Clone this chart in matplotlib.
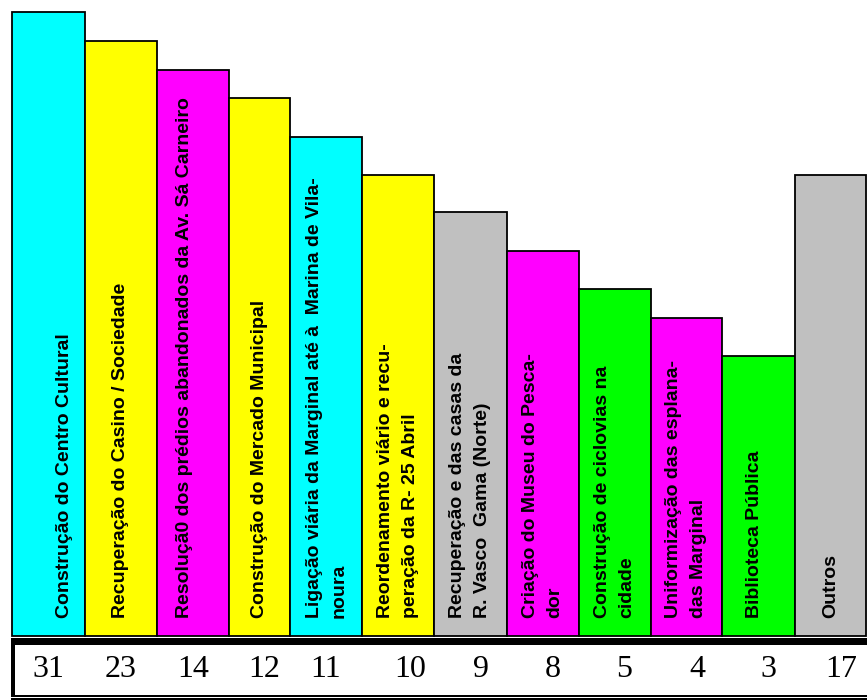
import matplotlib
matplotlib.use("Agg")
import matplotlib.pyplot as plt
import matplotlib.transforms as mtransforms
from matplotlib.patches import Rectangle
import numpy as np

# ---------------- data ----------------
labels = [
    "Construção do Centro Cultural",
    "Recuperação do Casino / Sociedade",
    "Resoluçã0 dos prédios abandonados da Av. Sá Carneiro",
    "Construção do Mercado Municipal",
    "Ligação viária da Marginal até à  Marina de Vila-\nnoura",
    "Reordenamento viário e recu-\nperação da R- 25 Abril",
    "Recuperação e das casas da\nR. Vasco  Gama (Norte)",
    "Criação do Museu do Pesca-\ndor",
    "Construção de ciclovias na\ncidade",
    "Uniformização das esplana-\ndas Marginal",
    "Biblioteca Pública",
    "Outros",
]
values = [31, 23, 14, 12, 11, 10, 9, 8, 5, 4, 3, 17]
# drawn bar heights (arbitrary units)
bar_heights = [31.2, 29.75, 28.3, 26.9, 24.95, 23.05, 21.2, 19.25, 17.35, 15.9, 14.0, 23.05]

# ---------------- style ----------------
colors = ["#00FFFF", "#FFFF00", "#FF00FF", "#FFFF00", "#00FFFF", "#FFFF00",
          "#C0C0C0", "#FF00FF", "#00FF00", "#FF00FF", "#00FF00", "#C0C0C0"]
bar_widths = [1.01, 1.0, 1.0, 0.85, 1.0, 1.0, 1.01, 1.0, 1.0, 0.99, 1.01, 0.99]
label_dx_px = [16, 0, -8, 0, 1, 0, 0, 0, 0, 0, -4, 0]
value_dx_px = [0, 0, 0, 5, 0, 12, 11, 10, 9, 11, 10, 11]

W, H, DPI = 867, 700, 100
fig = plt.figure(figsize=(W / DPI, H / DPI), dpi=DPI)
fig.patch.set_facecolor("white")

# bar axes (pixels 12..866 horizontally, 0..636 vertically)
ax = fig.add_axes([12 / W, (H - 636) / H, 854 / W, 636 / H])
ax.set_axis_off()
lefts = np.concatenate([[0], np.cumsum(bar_widths)[:-1]])
ax.bar(lefts, bar_heights, width=bar_widths, align="edge", color=colors,
       edgecolor="black", linewidth=1.3, clip_on=False)
ax.set_xlim(0, sum(bar_widths))
ax.set_ylim(0, 31.8)

centers = lefts + np.array(bar_widths) / 2
for i, (c, lab) in enumerate(zip(centers, labels)):
    tr = ax.transData + mtransforms.ScaledTranslation(label_dx_px[i] / DPI, 0, fig.dpi_scale_trans)
    ax.text(c, 0.9, lab, rotation=90, ha="center", va="bottom",
            multialignment="left", linespacing=1.6,
            fontsize=14, fontweight="bold",
            family=["Liberation Sans", "DejaVu Sans"],
            transform=tr, clip_on=False)

# overlay axes in pixel coordinates for the table frame
ov = fig.add_axes([0, 0, 1, 1], zorder=-1)
ov.set_axis_off()
ov.set_xlim(0, W)
ov.set_ylim(H, 0)
ov.patch.set_alpha(0)
ov.add_patch(Rectangle((11, 638), W - 11, 7, color="black", lw=0))
ov.add_patch(Rectangle((11, 638), 4, 58, color="black", lw=0))
ov.add_patch(Rectangle((11, 694.8), W - 11, 2.2, color="black", lw=0))
ov.add_patch(Rectangle((11, 698.3), W - 11, 1.7, color="black", lw=0))

blend = mtransforms.blended_transform_factory(ax.transData, ov.transData)
for i, (c, v) in enumerate(zip(centers, values)):
    tr = blend + mtransforms.ScaledTranslation(value_dx_px[i] / DPI, 0, fig.dpi_scale_trans)
    fig.text(c, 677, str(v), ha="center", va="baseline", fontsize=23,
             family=["Liberation Serif", "DejaVu Serif"], transform=tr)

fig.savefig("out.png", dpi=DPI, facecolor="white")
